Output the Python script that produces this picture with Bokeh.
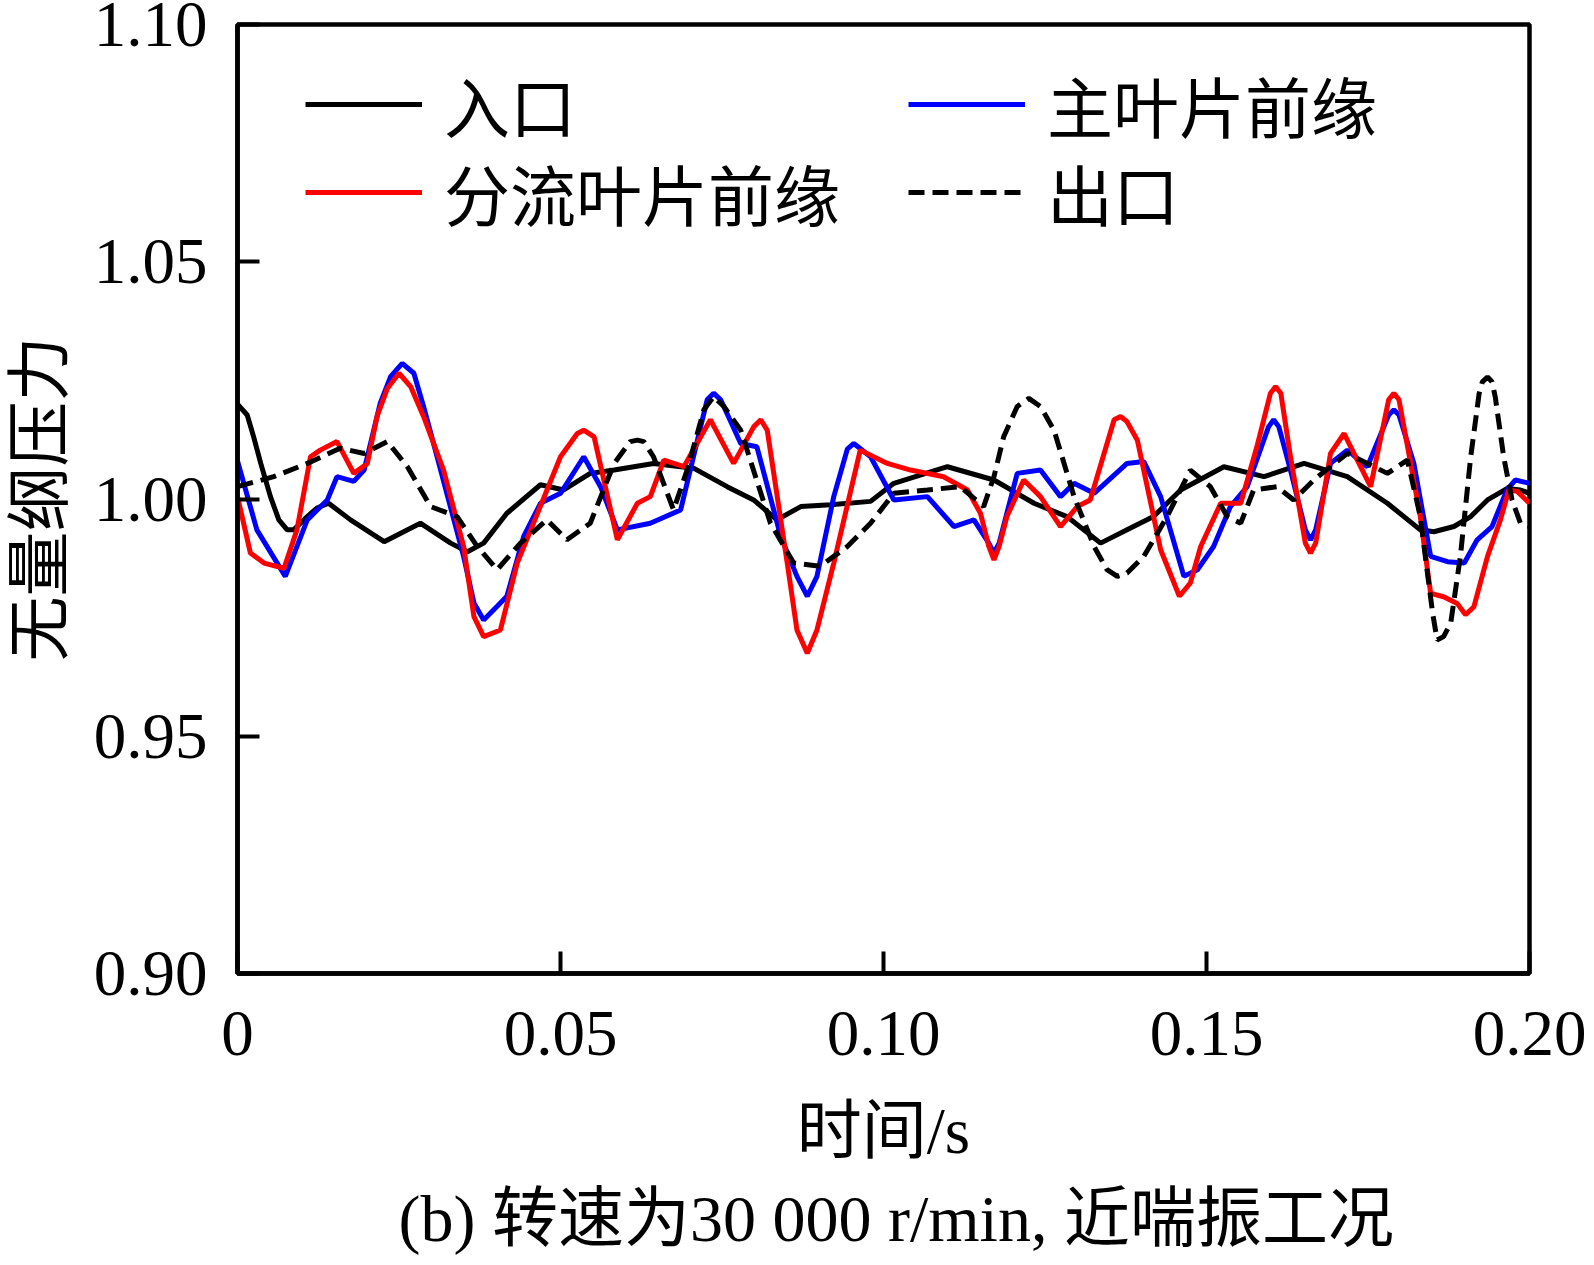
from bokeh.plotting import figure
from bokeh.models import Range1d, FixedTicker, Legend, LegendItem, Title
from bokeh.embed import file_html
from bokeh.resources import INLINE

# ---------------- data ----------------
x_ticks = [0, 0.05, 0.10, 0.15, 0.20]
x_tick_labels = ["0", "0.05", "0.10", "0.15", "0.20"]
y_ticks = [0.90, 0.95, 1.00, 1.05, 1.10]
y_tick_labels = ["0.90", "0.95", "1.00", "1.05", "1.10"]

series_names = ["入口", "主叶片前缘", "分流叶片前缘", "出口"]

# 入口 (inlet)
t_inlet = [0, 0.0015, 0.0025, 0.0036, 0.0051, 0.0064, 0.0077, 0.0087, 0.0108, 0.0123,
           0.0141, 0.0175, 0.0227, 0.0283, 0.0330, 0.0356, 0.0381, 0.0417, 0.0469, 0.0505,
           0.0546, 0.0583, 0.0644, 0.0706, 0.0758, 0.0799, 0.0835, 0.0872, 0.0918, 0.0980,
           0.1016, 0.1099, 0.1171, 0.1233, 0.1284, 0.1336, 0.1377, 0.1418, 0.1460, 0.1527,
           0.1589, 0.1651, 0.1718, 0.1780, 0.1831, 0.1852, 0.1883, 0.1909, 0.1935, 0.1965,
           0.1986, 0.2000]
p_inlet = [1.0200, 1.0177, 1.0131, 1.0075, 1.0005, 0.9956, 0.9935, 0.9935, 0.9963, 0.9981,
           0.9991, 0.9956, 0.9910, 0.9949, 0.9907, 0.9889, 0.9907, 0.9970, 1.0030, 1.0019,
           1.0054, 1.0061, 1.0075, 1.0065, 1.0026, 0.9998, 0.9956, 0.9984, 0.9988, 0.9995,
           1.0033, 1.0068, 1.0040, 0.9991, 0.9963, 0.9907, 0.9935, 0.9963, 1.0019, 1.0068,
           1.0047, 1.0075, 1.0047, 0.9991, 0.9935, 0.9931, 0.9942, 0.9963, 0.9998, 1.0022,
           1.0019, 1.0012]

# 主叶片前缘 (main blade leading edge)
t_main = [0, 0.0030, 0.0074, 0.0108, 0.0139, 0.0154, 0.0180, 0.0196, 0.0221, 0.0237,
          0.0255, 0.0273, 0.0288, 0.0309, 0.0350, 0.0366, 0.0381, 0.0402, 0.0417, 0.0443,
          0.0469, 0.0500, 0.0536, 0.0562, 0.0588, 0.0639, 0.0686, 0.0727, 0.0737, 0.0748,
          0.0779, 0.0804, 0.0841, 0.0866, 0.0882, 0.0897, 0.0923, 0.0944, 0.0954, 0.0980,
          0.1016, 0.1068, 0.1109, 0.1140, 0.1163, 0.1171, 0.1179, 0.1207, 0.1243, 0.1274,
          0.1295, 0.1326, 0.1377, 0.1403, 0.1429, 0.1465, 0.1486, 0.1511, 0.1537, 0.1563,
          0.1596, 0.1604, 0.1612, 0.1630, 0.1653, 0.1661, 0.1669, 0.1692, 0.1718, 0.1749,
          0.1782, 0.1790, 0.1798, 0.1821, 0.1847, 0.1873, 0.1899, 0.1919, 0.1942, 0.1965,
          0.1978, 0.2000]
p_main = [1.0080, 0.9935, 0.9837, 0.9956, 0.9998, 1.0047, 1.0037, 1.0061, 1.0202, 1.0258,
          1.0286, 1.0265, 1.0195, 1.0089, 0.9879, 0.9781, 0.9745, 0.9774, 0.9795, 0.9921,
          0.9991, 1.0012, 1.0089, 1.0026, 0.9935, 0.9949, 0.9977, 1.0209, 1.0223, 1.0209,
          1.0117, 1.0110, 0.9921, 0.9837, 0.9795, 0.9837, 1.0005, 1.0105, 1.0117, 1.0089,
          0.9998, 1.0005, 0.9942, 0.9956, 0.9907, 0.9886, 0.9907, 1.0054, 1.0061, 1.0005,
          1.0033, 1.0012, 1.0075, 1.0079, 1.0005, 0.9837, 0.9851, 0.9900, 0.9984, 1.0026,
          1.0152, 1.0167, 1.0152, 1.0061, 0.9935, 0.9914, 0.9935, 1.0075, 1.0103, 1.0068,
          1.0177, 1.0188, 1.0177, 1.0075, 0.9879, 0.9868, 0.9865, 0.9914, 0.9942, 1.0019,
          1.0040, 1.0033]

# 分流叶片前缘 (splitter blade leading edge)
t_split = [0, 0.0020, 0.0041, 0.0072, 0.0092, 0.0113, 0.0128, 0.0154, 0.0180, 0.0201,
           0.0216, 0.0232, 0.0250, 0.0268, 0.0288, 0.0319, 0.0350, 0.0366, 0.0381, 0.0407,
           0.0433, 0.0454, 0.0500, 0.0526, 0.0536, 0.0552, 0.0588, 0.0619, 0.0639, 0.0660,
           0.0691, 0.0732, 0.0768, 0.0799, 0.0810, 0.0820, 0.0851, 0.0866, 0.0882, 0.0897,
           0.0923, 0.0964, 0.1006, 0.1042, 0.1093, 0.1130, 0.1150, 0.1163, 0.1171, 0.1179,
           0.1191, 0.1217, 0.1243, 0.1274, 0.1300, 0.1320, 0.1357, 0.1367, 0.1377, 0.1393,
           0.1429, 0.1458, 0.1475, 0.1491, 0.1522, 0.1553, 0.1578, 0.1599, 0.1607, 0.1615,
           0.1630, 0.1653, 0.1661, 0.1669, 0.1692, 0.1713, 0.1754, 0.1782, 0.1790, 0.1798,
           0.1831, 0.1847, 0.1867, 0.1888, 0.1901, 0.1914, 0.1935, 0.1955, 0.1968, 0.1981,
           0.2000]
p_split = [1.0005, 0.9886, 0.9865, 0.9854, 0.9935, 1.0089, 1.0103, 1.0121, 1.0054, 1.0075,
           1.0174, 1.0233, 1.0265, 1.0237, 1.0174, 1.0061, 0.9900, 0.9752, 0.9710, 0.9724,
           0.9865, 0.9935, 1.0089, 1.0138, 1.0145, 1.0131, 0.9914, 0.9991, 1.0005, 1.0082,
           1.0068, 1.0167, 1.0075, 1.0152, 1.0167, 1.0145, 0.9865, 0.9724, 0.9675, 0.9724,
           0.9865, 1.0103, 1.0075, 1.0061, 1.0047, 1.0019, 0.9970, 0.9900, 0.9872, 0.9900,
           0.9963, 1.0040, 1.0005, 0.9942, 0.9984, 0.9998, 1.0167, 1.0174, 1.0163, 1.0124,
           0.9893, 0.9795, 0.9823, 0.9900, 0.9991, 0.9991, 1.0110, 1.0223, 1.0237, 1.0223,
           1.0089, 0.9907, 0.9886, 0.9907, 1.0096, 1.0138, 1.0026, 1.0209, 1.0223, 1.0209,
           0.9963, 0.9801, 0.9794, 0.9780, 0.9756, 0.9773, 0.9879, 0.9956, 1.0019, 1.0016,
           0.9991]

# 出口 (outlet)
t_outlet = [0, 0.0056, 0.0108, 0.0159, 0.0196, 0.0232, 0.0263, 0.0299, 0.0340, 0.0371,
            0.0402, 0.0438, 0.0479, 0.0510, 0.0546, 0.0583, 0.0608, 0.0619, 0.0629, 0.0644,
            0.0675, 0.0696, 0.0722, 0.0737, 0.0753, 0.0779, 0.0825, 0.0861, 0.0902, 0.0944,
            0.0980, 0.1016, 0.1068, 0.1119, 0.1155, 0.1171, 0.1186, 0.1207, 0.1225, 0.1243,
            0.1264, 0.1295, 0.1326, 0.1346, 0.1362, 0.1377, 0.1403, 0.1439, 0.1475, 0.1506,
            0.1532, 0.1553, 0.1573, 0.1609, 0.1635, 0.1666, 0.1718, 0.1749, 0.1780, 0.1811,
            0.1831, 0.1842, 0.1850, 0.1857, 0.1867, 0.1878, 0.1893, 0.1909, 0.1922, 0.1927,
            0.1935, 0.1942, 0.1947, 0.1960, 0.1973, 0.1986, 0.2000]
p_outlet = [1.0026, 1.0047, 1.0075, 1.0107, 1.0096, 1.0121, 1.0068, 0.9984, 0.9963, 0.9900,
            0.9851, 0.9907, 0.9956, 0.9914, 0.9949, 1.0075, 1.0121, 1.0124, 1.0121, 1.0089,
            0.9977, 1.0061, 1.0188, 1.0216, 1.0195, 1.0145, 0.9949, 0.9865, 0.9858, 0.9900,
            0.9949, 1.0012, 1.0019, 1.0026, 0.9984, 1.0047, 1.0131, 1.0195, 1.0212, 1.0195,
            1.0145, 1.0005, 0.9900, 0.9851, 0.9837, 0.9844, 0.9879, 0.9963, 1.0061, 1.0026,
            0.9963, 0.9949, 1.0019, 1.0026, 0.9998, 1.0040, 1.0096, 1.0075, 1.0054, 1.0082,
            0.9963, 0.9844, 0.9760, 0.9703, 0.9710, 0.9738, 0.9879, 1.0089, 1.0222, 1.0247,
            1.0257, 1.0247, 1.0215, 1.0089, 0.9998, 0.9949, 0.9942]

x_label = "时间/s"
y_label = "无量纲压力"
caption = "(b) 转速为30 000 r/min, 近喘振工况"

# ---------------- styling ----------------
FONT = "'Liberation Serif', 'Noto Sans CJK SC'"
FS = "65px"
LW = 5

p = figure(width=1594, height=1265, output_backend="svg", toolbar_location=None,
           x_range=Range1d(0, 0.2), y_range=Range1d(0.9, 1.1),
           min_border_left=237, min_border_right=65, min_border_top=24,
           min_border_bottom=291)
p.background_fill_color = "white"
p.border_fill_color = "white"
p.outline_line_color = "black"
p.outline_line_width = 4.5
p.xgrid.grid_line_color = None
p.ygrid.grid_line_color = None

for ax, ticks, labels in ((p.xaxis[0], x_ticks, x_tick_labels), (p.yaxis[0], y_ticks, y_tick_labels)):
    ax.ticker = FixedTicker(ticks=ticks)
    ax.major_label_overrides = {t: l for t, l in zip(ticks, labels)}
    ax.axis_line_width = 4.5
    ax.axis_line_color = "black"
    ax.major_tick_in = 22
    ax.major_tick_out = 0
    ax.major_tick_line_width = 4
    ax.major_tick_line_color = "black"
    ax.minor_tick_line_color = None
    ax.major_label_text_font = FONT
    ax.major_label_text_font_size = FS
    ax.major_label_text_color = "black"
    ax.axis_label_text_font = FONT
    ax.axis_label_text_font_size = FS
    ax.axis_label_text_font_style = "normal"
    ax.axis_label_text_color = "black"

p.xaxis.axis_label = x_label
p.yaxis.axis_label = y_label
p.xaxis.major_label_standoff = 38
p.yaxis.major_label_standoff = 30
p.xaxis.axis_label_standoff = 37
p.yaxis.axis_label_standoff = 15

r_in = p.line(t_inlet, p_inlet, line_color="black", line_width=LW)
r_main = p.line(t_main, p_main, line_color="#0000ff", line_width=LW)
r_split = p.line(t_split, p_split, line_color="#ff0000", line_width=LW)
r_out = p.line(t_outlet, p_outlet, line_color="black", line_width=LW, line_dash="16 8")

def make_legend(label, renderer, loc):
    return Legend(items=[LegendItem(label=label, renderers=[renderer])], location=loc,
                  orientation="vertical", glyph_width=117, glyph_height=100,
                  label_height=100, spacing=0, label_standoff=22, padding=0, margin=0,
                  border_line_alpha=0, background_fill_alpha=0,
                  label_text_font=FONT, label_text_font_size="66px",
                  label_text_color="black")

p.add_layout(make_legend(series_names[0], r_in, (68, 819)), "center")
p.add_layout(make_legend(series_names[1], r_main, (671, 819)), "center")
p.add_layout(make_legend(series_names[2], r_split, (68, 731)), "center")
p.add_layout(make_legend(series_names[3], r_out, (671, 731)), "center")

t = Title(text=caption, align="left", offset=161, text_font=FONT, text_font_size="66px",
          text_font_style="normal", text_color="black", standoff=21)
p.add_layout(t, "below")

open("out.html", "w").write(file_html(p, INLINE))
